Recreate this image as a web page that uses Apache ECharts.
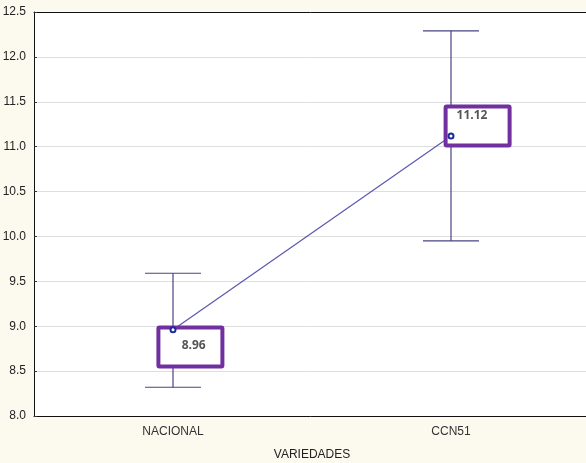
<!DOCTYPE html>
<html>
<head>
<meta charset="utf-8">
<script src="https://cdn.jsdelivr.net/npm/echarts@6/dist/echarts.min.js"></script>
<style>
html,body{margin:0;padding:0;background:#FCF9EF;}
#c{width:586px;height:463px;}
</style>
</head>
<body>
<div id="c"></div>
<script>
var categories = ['NACIONAL', 'CCN51'];
var means = [8.96, 11.12];
var lows = [8.32, 9.95];
var highs = [9.59, 12.29];
var meanLabels = ['8.96', '11.12'];
var yTicks = [8.0, 8.5, 9.0, 9.5, 10.0, 10.5, 11.0, 11.5, 12.0, 12.5];

var chart = echarts.init(document.getElementById('c'));

var errData = categories.map(function (c, i) { return [i, lows[i], highs[i]]; });
var boxSeriesData = categories.map(function (c, i) { return [i, means[i]]; });

// annotation box styling (offsets from the point, in px)
var boxStyles = [
  { bx: -14.6, by: -2.3, tx: 8.7, ty: 15.7 },
  { bx: -5.4, by: -29.3, tx: 5.6, ty: -20.3 }
];

chart.setOption({
  backgroundColor: '#FCF9EF',
  animation: false,
  grid: { left: 34, top: 12, width: 556, height: 404, outerBoundsMode: 'none', containLabel: false, backgroundColor: '#ffffff', show: true, borderWidth: 0 },
  xAxis: [{
    type: 'category',
    data: categories,
    boundaryGap: true,
    name: 'VARIEDADES',
    nameLocation: 'middle',
    nameGap: 33,
    nameTextStyle: { fontFamily: 'Liberation Sans', fontSize: 12, color: '#222' },
    axisLine: { lineStyle: { color: '#111', width: 1 } },
    axisTick: { inside: true, length: 4, alignWithLabel: true, lineStyle: { color: '#555' } },
    axisLabel: { fontFamily: 'Liberation Sans', fontSize: 12, color: '#333', margin: 10 },
    splitLine: { show: false }
  }, {
    type: 'category',
    data: categories,
    position: 'top',
    boundaryGap: true,
    axisLine: { lineStyle: { color: '#111', width: 1 } },
    axisTick: { inside: true, length: 4, alignWithLabel: true, lineStyle: { color: '#555' } },
    axisLabel: { show: false },
    splitLine: { show: false }
  }],
  yAxis: {
    type: 'value',
    min: 8.0,
    max: 12.5,
    interval: 0.5,
    axisLine: { show: true, lineStyle: { color: '#111', width: 1 } },
    axisTick: { show: true, inside: true, length: 3, lineStyle: { color: '#333' } },
    axisLabel: {
      fontFamily: 'Liberation Sans', fontSize: 12, color: '#222', margin: 8,
      formatter: function (v) { return v.toFixed(1); }
    },
    splitLine: { show: true, lineStyle: { color: '#dedede', width: 1 } }
  },
  series: [{
    type: 'custom',
    data: errData,
    z: 2,
    silent: true,
    renderItem: function (params, api) {
      var x = api.value(0);
      var lo = api.coord([x, api.value(1)]);
      var hi = api.coord([x, api.value(2)]);
      var hw = 28;
      var st = { stroke: '#47447f', lineWidth: 1.2 };
      return {
        type: 'group',
        children: [
          { type: 'line', shape: { x1: lo[0], y1: lo[1], x2: hi[0], y2: hi[1] }, style: st },
          { type: 'line', shape: { x1: lo[0] - hw, y1: lo[1], x2: lo[0] + hw, y2: lo[1] }, style: st },
          { type: 'line', shape: { x1: hi[0] - hw, y1: hi[1], x2: hi[0] + hw, y2: hi[1] }, style: st }
        ]
      };
    }
  }, {
    type: 'line',
    data: means,
    z: 3,
    symbol: 'none',
    silent: true,
    lineStyle: { color: '#5a57b0', width: 1.2 }
  }, {
    type: 'custom',
    data: boxSeriesData,
    z: 4,
    silent: true,
    renderItem: function (params, api) {
      var i = params.dataIndex;
      var p = api.coord([api.value(0), api.value(1)]);
      var s = boxStyles[i];
      return {
        type: 'group',
        children: [
          { type: 'rect', shape: { x: p[0] + s.bx, y: p[1] + s.by, width: 64, height: 39, r: 1 },
            style: { fill: '#ffffff', stroke: '#7030A0', lineWidth: 4 } },
          { type: 'text', x: p[0] + s.tx, y: p[1] + s.ty,
            style: { text: meanLabels[i], fill: '#555555', font: 'bold 12px "Open Sans"', textAlign: 'left', textVerticalAlign: 'middle' } }
        ]
      };
    }
  }, {
    type: 'scatter',
    data: means,
    z: 5,
    symbol: 'emptyCircle',
    symbolSize: 5,
    silent: true,
    itemStyle: { color: '#1f2a9a', borderColor: '#1f2a9a', borderWidth: 1.5, opacity: 1 }
  }]
});
</script>
</body>
</html>
